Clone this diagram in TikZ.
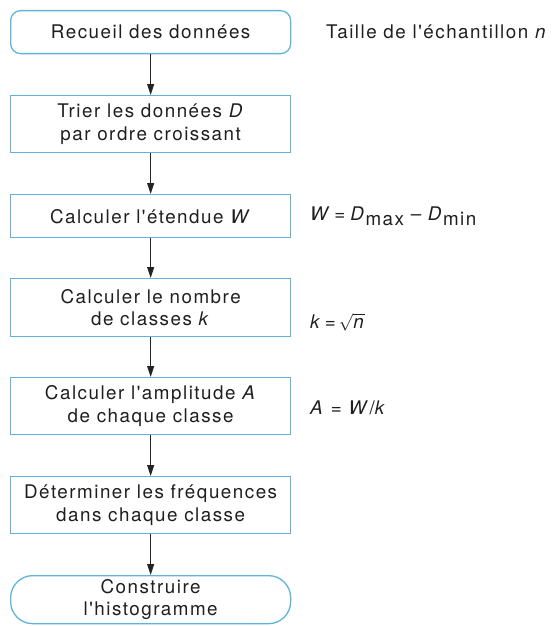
\documentclass[tikz,border=0pt]{standalone}
\usepackage{fontspec}
\setmainfont[LetterSpace=8,Ligatures=TeXOff]{TeX Gyre Heros}
\usetikzlibrary{arrows.meta}
\definecolor{boxblue}{RGB}{95,180,220}
\definecolor{arrowgray}{RGB}{35,35,35}
\tikzset{
  stepbox/.style={draw=boxblue, line width=1.3pt, fill=white, anchor=north west,
    minimum width=280pt, inner sep=0pt, align=center, text=black!88,
    font=\fontsize{18.8}{22.5}\selectfont},
  endbox/.style={stepbox, rounded corners=10pt},
  pillbox/.style={stepbox, rounded corners=22pt},
  flow/.style={draw=arrowgray, line width=0.9pt, -{Triangle[length=11pt,width=7pt]}},
  note/.style={anchor=west, inner sep=0pt, text=black!88, font=\fontsize{18.8}{22.5}\selectfont}
}
\begin{document}
\begin{tikzpicture}[x=1pt,y=-1pt]
\useasboundingbox (0,0) rectangle (552,626);
\node[endbox, minimum height=43pt] (b1) at (10,10) {Recueil des données};
\node[stepbox, minimum height=57pt] (b2) at (10,95) {Trier les données \textit{D}\\par ordre croissant};
\node[stepbox, minimum height=43pt] (b3) at (10,194) {Calculer l'étendue \textit{W}};
\node[stepbox, minimum height=58pt] (b4) at (10,278) {Calculer le nombre\\de classes \textit{k}};
\node[stepbox, minimum height=57pt] (b5) at (10,377) {Calculer l'amplitude \textit{A}\\de chaque classe};
\node[stepbox, minimum height=57pt] (b6) at (10,476) {Déterminer les fréquences\\dans chaque classe};
\node[pillbox, minimum height=48pt] (b7) at (10,575) {Construire\\l'histogramme};
\draw[flow] (b1) -- (b2);
\draw[flow] (b2) -- (b3);
\draw[flow] (b3) -- (b4);
\draw[flow] (b4) -- (b5);
\draw[flow] (b5) -- (b6);
\draw[flow] (b6) -- (b7);
\node[note] (t1) at (326,32) {Taille de l'échantillon \textit{n}};
\node[note] (t2) at (310,216) {\textit{W}\,=\;\textit{D}\raisebox{-5pt}{max} – \textit{D}\raisebox{-5pt}{min}};
\node[note] (t3) at (310,322) {\textit{k}\,=\,$\sqrt{\mbox{\textit{n}}}$};
\node[note] (t4) at (310,408) {\textit{A} = \textit{W}/\textit{k}};
\end{tikzpicture}
\end{document}
